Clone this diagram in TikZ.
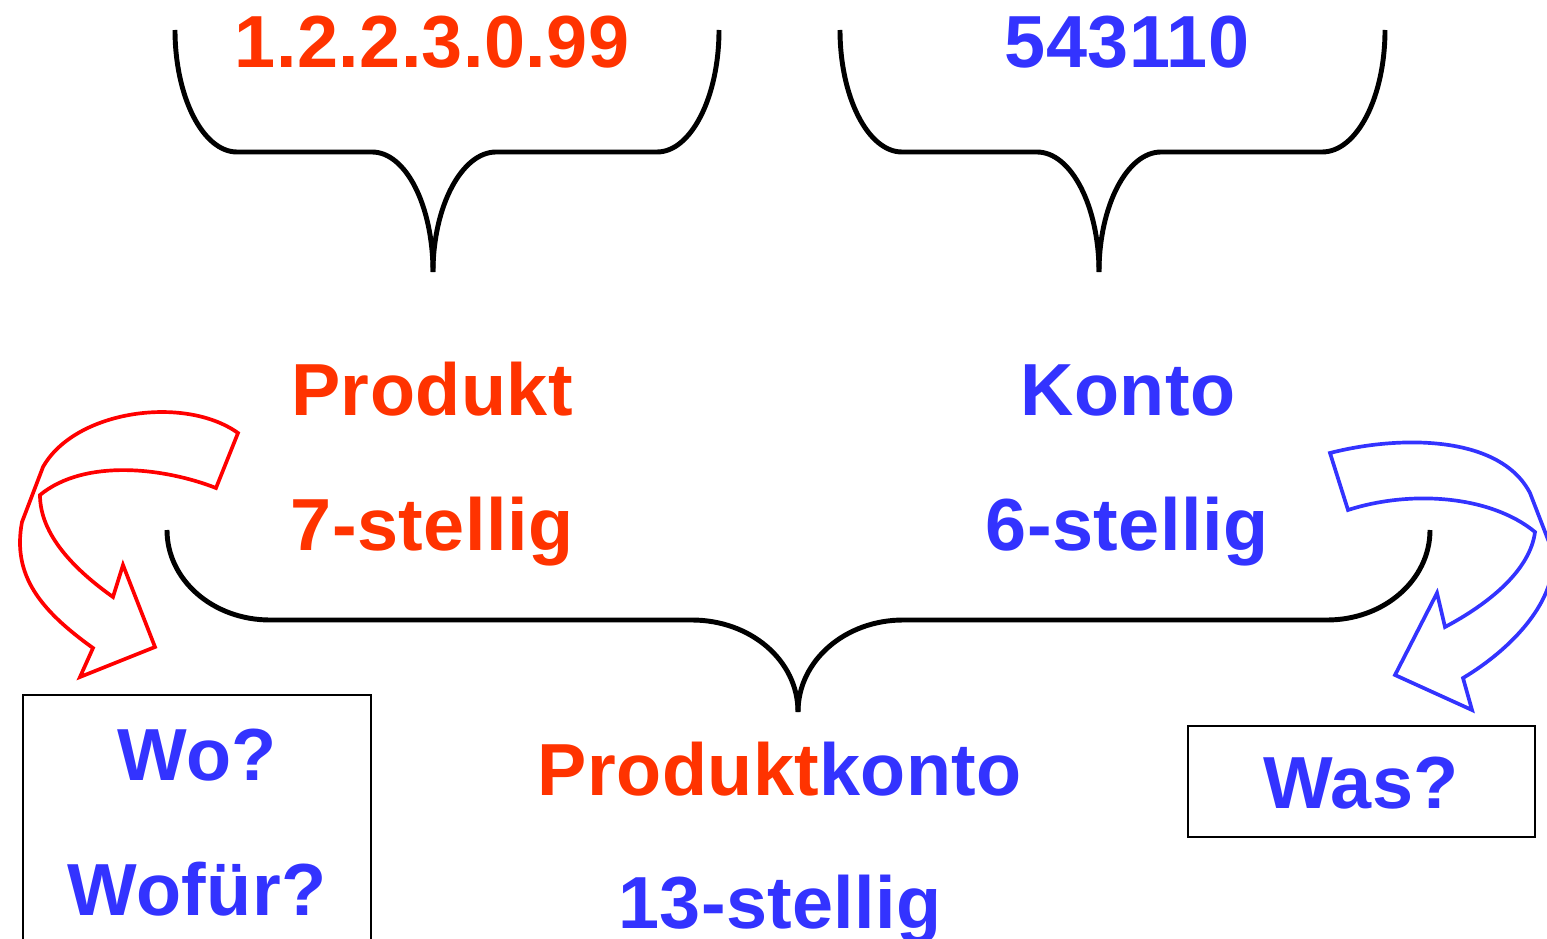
\documentclass[tikz,border=0pt]{standalone}
\usepackage{fontspec}
\setmainfont[LetterSpace=0.6]{Liberation Sans}
\usepackage{tikz}
\definecolor{prodred}{RGB}{255,51,0}
\definecolor{kontoblue}{RGB}{51,51,255}
\definecolor{arrowred}{RGB}{255,0,0}
\begin{document}
\begin{tikzpicture}[x=0.02cm,y=-0.02cm,
    txt/.style={font=\bfseries\fontsize{42}{50}\selectfont,anchor=base,inner sep=0pt},
    brace/.style={line width=2.8pt},
    bigarrow/.style={line width=2.1pt},
    kasten/.style={draw,line width=1.3pt,inner sep=0pt}]
\useasboundingbox (0,0) rectangle (1547,939);
% top braces
\draw[brace](175,30) .. controls (175,97) and (203,152) .. (237,152)--(372,152) .. controls (406,152) and (433,206) .. (433,272);
\draw[brace](719,30) .. controls (719,97) and (691,152) .. (657,152)--(496,152) .. controls (462,152) and (433,206) .. (433,272);
\draw[brace](840,30) .. controls (840,97) and (868,152) .. (902,152)--(1037,152) .. controls (1071,152) and (1099,206) .. (1099,272);
\draw[brace](1385,30) .. controls (1385,97) and (1357,152) .. (1322,152)--(1161,152) .. controls (1127,152) and (1099,206) .. (1099,272);
% bottom brace
\draw[brace](167,530) .. controls (167,580) and (213,620) .. (270,620)--(692,620) .. controls (750,620) and (798,660) .. (798,712);
\draw[brace](1430,530) .. controls (1430,580) and (1384,620) .. (1327,620)--(903,620) .. controls (846,620) and (798,660) .. (798,712);
% curved arrows
\draw[bigarrow,arrowred](238,433) .. controls (185,395) and (75,410) .. (43,467)--(22,522) .. controls (12,575) and (40,610) .. (93,648)--(80,677)--(155,647)--(123,565)--(113,597) .. controls (75,570) and (40,535) .. (40,495) .. controls (85,458) and (165,468) .. (216,488)--cycle;
\draw[bigarrow,kontoblue](1330,453) .. controls (1400,435) and (1500,435) .. (1530,493)--(1552,550) .. controls (1560,600) and (1510,650) .. (1463,678)--(1472,710)--(1395,675)--(1437,593)--(1445,627) .. controls (1490,603) and (1530,570) .. (1535,532) .. controls (1490,495) and (1410,490) .. (1348,510)--cycle;
% boxes
\node[kasten,minimum width=6.96cm,minimum height=5.6cm](wobox) at (197,835){};
\node[kasten,minimum width=6.94cm,minimum height=2.22cm](wasbox) at (1361.5,781.5){};
% texts
\node[txt,prodred](nummer) at (432,68){1.2.2.3.0.99};
\node[txt,kontoblue](kontonr) at (1127,68){543110};
\node[txt,prodred](produkt) at (432,415){Produkt};
\node[txt,prodred](prodstellen) at (432,550){7-stellig};
\node[txt,kontoblue](konto) at (1128,415){Konto};
\node[txt,kontoblue](kontostellen) at (1127,550){6-stellig};
\node[txt](produktkonto) at (780,795){\textcolor{prodred}{Produkt}\textcolor{kontoblue}{konto}};
\node[txt,kontoblue](gesamtstellen) at (780,928){13-stellig};
\node[txt,kontoblue](wo) at (197,780){Wo?};
\node[txt,kontoblue](wofuer) at (197,915){Wofür?};
\node[txt,kontoblue](was) at (1361,808){Was?};
\end{tikzpicture}
\end{document}
